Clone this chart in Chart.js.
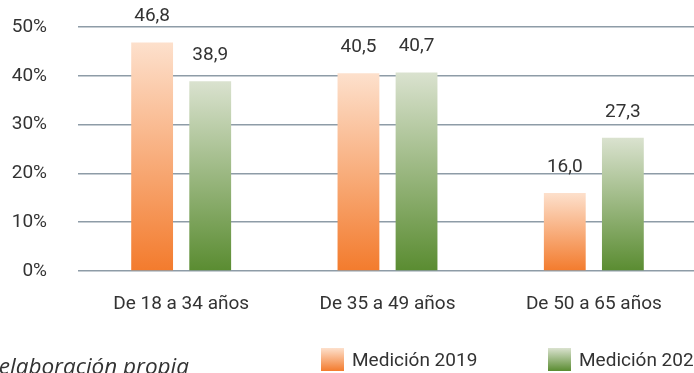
<!DOCTYPE html>
<html>
<head>
<meta charset="utf-8">
<script src="https://cdn.jsdelivr.net/npm/chart.js@4.4.1/dist/chart.umd.min.js"></script>
<style>
  html, body { margin: 0; padding: 0; overflow: hidden; background: #fff; }
  #wrap { width: 700px; height: 373px; }
</style>
</head>
<body>
<div id="wrap"><canvas id="myChart" width="700" height="373"></canvas></div>
<script>
// data
const categories = ['De 18 a 34 años', 'De 35 a 49 años', 'De 50 a 65 años'];
const medicion2019 = [46.8, 40.5, 16.0];
const medicion2020 = [38.9, 40.7, 27.3];
const seriesNames = ['Medición 2019', 'Medición 2020'];
const yTicks = [0, 10, 20, 30, 40, 50];
const sourceNote = 'Fuente: elaboración propia';

const textColor = '#333333';
const mainFont = 'Roboto, "DejaVu Sans", sans-serif';

// top -> bottom colours of each gradient
const orangeStops = ['#fde0cc', '#f37b2d'];
const greenStops = ['#dae2cf', '#5a8c31'];

function barGradient(stops) {
  return (context) => {
    const chart = context.chart;
    const yScale = chart.scales.y;
    if (!yScale || context.raw == null) return stops[1];
    const top = yScale.getPixelForValue(context.raw);
    const bottom = yScale.getPixelForValue(0);
    if (!isFinite(top) || !isFinite(bottom)) return stops[1];
    const g = chart.ctx.createLinearGradient(0, top, 0, bottom);
    g.addColorStop(0, stops[0]);
    g.addColorStop(1, stops[1]);
    return g;
  };
}

// value labels above the bars, with comma decimals
const valueLabels = {
  id: 'valueLabels',
  afterDatasetsDraw(chart) {
    const ctx = chart.ctx;
    ctx.save();
    ctx.font = '19px ' + mainFont;
    ctx.fillStyle = textColor;
    ctx.textAlign = 'center';
    ctx.textBaseline = 'middle';
    chart.data.datasets.forEach((ds, i) => {
      chart.getDatasetMeta(i).data.forEach((bar, j) => {
        const txt = ds.data[j].toFixed(1).replace('.', ',');
        ctx.fillText(txt, bar.x, bar.y - 26);
      });
    });
    ctx.restore();
  }
};

// legend + source note at the bottom
const bottomLegend = {
  id: 'bottomLegend',
  afterDraw(chart) {
    const ctx = chart.ctx;
    ctx.save();
    const boxes = [
      { x: 321, stops: orangeStops, label: seriesNames[0] },
      { x: 548, stops: greenStops, label: seriesNames[1] }
    ];
    boxes.forEach(b => {
      const g = ctx.createLinearGradient(0, 348, 0, 371);
      g.addColorStop(0, b.stops[0]);
      g.addColorStop(1, b.stops[1]);
      ctx.fillStyle = g;
      ctx.fillRect(b.x, 348, 23, 23);
      ctx.fillStyle = textColor;
      ctx.font = '19px ' + mainFont;
      ctx.textAlign = 'left';
      ctx.textBaseline = 'middle';
      ctx.fillText(b.label, b.x + 31, 361);
    });
    ctx.font = 'italic 22.5px "Open Sans", "Noto Sans", sans-serif';
    ctx.textAlign = 'right';
    ctx.textBaseline = 'alphabetic';
    ctx.fillText(sourceNote, 189, 374);
    ctx.restore();
  }
};

const ctx = document.getElementById('myChart').getContext('2d');
const myChart = new Chart(ctx, {
  type: 'bar',
  data: {
    labels: categories,
    datasets: [
      {
        label: seriesNames[0],
        data: medicion2019,
        backgroundColor: barGradient(orangeStops),
        categoryPercentage: 0.563,
        barPercentage: 0.72
      },
      {
        label: seriesNames[1],
        data: medicion2020,
        backgroundColor: barGradient(greenStops),
        categoryPercentage: 0.563,
        barPercentage: 0.72
      }
    ]
  },
  options: {
    responsive: false,
    animation: false,
    layout: { padding: { top: 27, right: 3, left: 0, bottom: 0 } },
    scales: {
      x: {
        grid: { display: false },
        border: { display: false },
        ticks: {
          color: textColor,
          font: { family: mainFont, size: 19 },
          padding: 14
        },
        afterFit(scale) { scale.height = 102; }
      },
      y: {
        min: 0,
        max: 50,
        afterBuildTicks(scale) { scale.ticks = yTicks.map(v => ({ value: v })); },
        grid: { color: '#8e9ca7', lineWidth: 1.5, drawTicks: false },
        border: { display: false },
        ticks: {
          color: textColor,
          font: { family: mainFont, size: 19 },
          padding: 31,
          callback: v => v + '%'
        },
        afterFit(scale) {
          // tick padding should only push labels left, not shrink the plot
          scale.width = 78;
          scale.paddingTop = 0;
          scale.paddingBottom = 0;
        }
      }
    },
    plugins: {
      legend: { display: false },
      tooltip: { enabled: false }
    }
  },
  plugins: [valueLabels, bottomLegend]
});
</script>
</body>
</html>
